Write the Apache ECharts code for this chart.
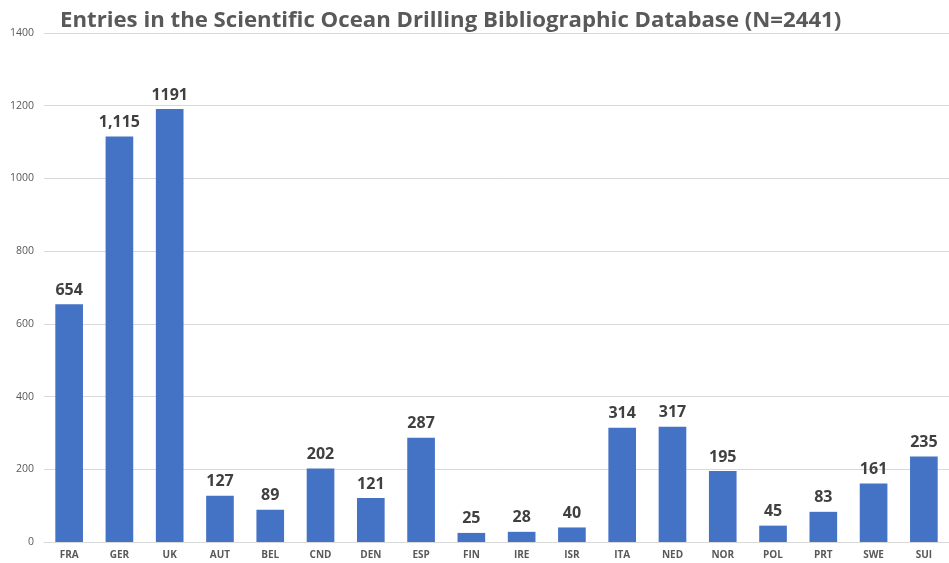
<!DOCTYPE html>
<html><head><meta charset="utf-8">
<script src="https://cdn.jsdelivr.net/npm/echarts@6/dist/echarts.min.js"></script>
<style>html,body{margin:0;padding:0;background:#fff}#c{width:949px;height:563px}</style>
</head><body><div id="c"></div>
<script>
var categories = ["FRA","GER","UK","AUT","BEL","CND","DEN","ESP","FIN","IRE","ISR","ITA","NED","NOR","POL","PRT","SWE","SUI"];
var entries = [654,1115,1191,127,89,202,121,287,25,28,40,314,317,195,45,83,161,235];
var yTicks = {min:0, max:1400, interval:200};
var chart = echarts.init(document.getElementById('c'));
chart.setOption({
  animation:false,
  title:{text:"Entries in the Scientific Ocean Drilling Bibliographic Database (N=2441)",left:55,top:5,
    textStyle:{fontFamily:'Open Sans',fontWeight:'bold',fontSize:22.2,color:'#595959'}},
  grid:{left:44,right:-9,top:33,bottom:21},
  xAxis:{type:'category',data:categories,axisTick:{show:false},
    axisLine:{lineStyle:{color:'#d9d9d9'}},
    axisLabel:{fontFamily:'Open Sans',fontWeight:'bold',fontSize:10,color:'#595959',margin:8}},
  yAxis:{type:'value',min:yTicks.min,max:yTicks.max,interval:yTicks.interval,
    axisLabel:{fontFamily:'Liberation Sans Narrow, Open Sans',fontSize:10.5,color:'#595959',margin:10,
      formatter:function(v){return String(v);}},
    splitLine:{lineStyle:{color:'#d9d9d9'}}},
  series:[{type:'bar',data:entries,barWidth:'55%',itemStyle:{color:'#4472C4'},
    label:{show:true,position:'top',distance:6,fontFamily:'Open Sans',fontWeight:'bold',fontSize:16,color:'#404040',
      formatter:function(p){return p.dataIndex===1?p.value.toLocaleString('en-US'):String(p.value);}}}]
});
</script></body></html>
